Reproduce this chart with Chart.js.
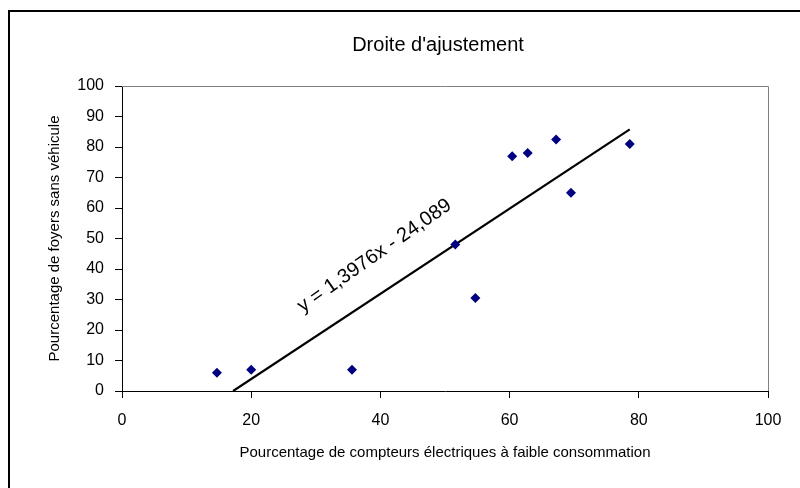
<!DOCTYPE html>
<html>
<head>
<meta charset="utf-8">
<script src="https://cdn.jsdelivr.net/npm/chart.js@4.4.1/dist/chart.umd.min.js"></script>
<style>
  html, body { margin: 0; padding: 0; background: #fff; }
  canvas { display: block; }
</style>
</head>
<body>
<canvas id="chart" width="800" height="488"></canvas>
<script>
/* values */
const compteurs = [14.7, 20.0, 35.6, 51.6, 54.7, 60.4, 62.8, 67.2, 69.5, 78.6];
const foyers    = [6.0, 7.0, 7.0, 48.0, 30.5, 77.0, 78.0, 82.5, 65.0, 81.0];

// trendline end points (as drawn in the picture)
const trendX = [17.2, 78.6];
const trendY = [0, 85.8];

const equationText = 'y = 1,3976x - 24,089';
const chartTitle = "Droite d'ajustement";
const xTitle = 'Pourcentage de compteurs électriques à faible consommation';
const yTitle = 'Pourcentage de foyers sans véhicule';

const FONT = "'Liberation Sans', Arial, sans-serif";
const EQ_AT = { x: 39.1, y: 44.3, angle: -35 };

const points = compteurs.map((x, i) => ({ x, y: foyers[i] }));
const trend = trendX.map((x, i) => ({ x, y: trendY[i] }));

/* outer frame, title, plot border on top/right and the rotated equation label */
const decor = {
  id: 'decor',
  beforeDraw(chart) {
    const { ctx } = chart;
    ctx.save();
    ctx.fillStyle = '#fff';
    ctx.fillRect(0, 0, chart.width, chart.height);
    ctx.strokeStyle = '#000';
    ctx.lineWidth = 2;
    ctx.beginPath();
    ctx.moveTo(9, chart.height);
    ctx.lineTo(9, 11);
    ctx.lineTo(chart.width, 11);
    ctx.stroke();

    ctx.fillStyle = '#000';
    ctx.font = '20px ' + FONT;
    ctx.textAlign = 'center';
    ctx.textBaseline = 'middle';
    ctx.fillText(chartTitle, 438, 45);
    ctx.restore();
  },
  afterDraw(chart) {
    const { ctx, chartArea: a, scales } = chart;
    ctx.save();
    ctx.strokeStyle = '#808080';
    ctx.lineWidth = 1;
    ctx.beginPath();
    ctx.moveTo(a.left, a.top + 0.5);
    ctx.lineTo(a.right + 0.5, a.top + 0.5);
    ctx.lineTo(a.right + 0.5, a.bottom);
    ctx.stroke();

    const px = scales.x.getPixelForValue(EQ_AT.x);
    const py = scales.y.getPixelForValue(EQ_AT.y);
    ctx.translate(px, py);
    ctx.rotate(EQ_AT.angle * Math.PI / 180);
    ctx.fillStyle = '#000';
    ctx.font = '20px ' + FONT;
    ctx.textAlign = 'center';
    ctx.textBaseline = 'middle';
    ctx.fillText(equationText, 0, 0);
    ctx.restore();
  }
};

const axisCommon = {
  grid: { display: true, drawOnChartArea: false, drawTicks: true, tickLength: 7, color: '#000' },
  border: { display: true, color: '#000', width: 1 },
};

new Chart(document.getElementById('chart'), {
  type: 'scatter',
  data: {
    datasets: [
      {
        label: 'points',
        data: points,
        pointStyle: 'rectRot',
        pointRadius: 5,
        pointBackgroundColor: '#000080',
        pointBorderColor: '#000080',
        pointBorderWidth: 0,
        showLine: false,
      },
      {
        label: 'tendance',
        type: 'line',
        data: trend,
        borderColor: '#000',
        borderWidth: 2.2,
        pointRadius: 0,
        fill: false,
      },
    ],
  },
  options: {
    responsive: false,
    animation: false,
    layout: { padding: { left: 0, right: 32, top: 86, bottom: 0 } },
    plugins: {
      legend: { display: false },
      tooltip: { enabled: false },
      title: { display: false },
    },
    scales: {
      x: {
        ...axisCommon,
        type: 'linear',
        min: 0,
        max: 100,
        ticks: { stepSize: 20, color: '#000', padding: 13, font: { family: FONT, size: 16 } },
        title: {
          display: true,
          text: xTitle,
          color: '#000',
          font: { family: FONT, size: 15, lineHeight: 1.2 },
          padding: { top: 0, bottom: 26 },
        },
        afterFit(scale) { scale.height = 97; },
      },
      y: {
        ...axisCommon,
        min: 0,
        max: 100,
        ticks: { stepSize: 10, color: '#000', padding: 11, font: { family: FONT, size: 16 } },
        title: {
          display: true,
          text: yTitle,
          color: '#000',
          font: { family: FONT, size: 15, lineHeight: 1.2 },
          padding: { top: 46, bottom: 0 },
        },
        afterFit(scale) { scale.width = 122; },
      },
    },
  },
  plugins: [decor],
});
</script>
</body>
</html>
